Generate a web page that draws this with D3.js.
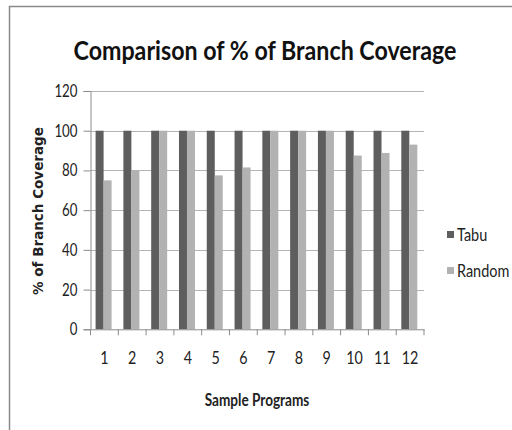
<!DOCTYPE html>
<html>
<head>
<meta charset="utf-8">
<script src="https://cdn.jsdelivr.net/npm/d3@7"></script>
<style>
  body { margin: 0; background: #fff; }
  svg { display: block; }
</style>
</head>
<body>
<svg id="chart"></svg>
<script>
const programs = ["1", "2", "3", "4", "5", "6", "7", "8", "9", "10", "11", "12"];
const tabu = [100, 100, 100, 100, 100, 100, 100, 100, 100, 100, 100, 100];
const random = [75, 80, 100, 100, 77.5, 81.5, 100, 100, 100, 87.5, 88.8, 93];
const seriesNames = ["Tabu", "Random"];
const yTicks = [0, 20, 40, 60, 80, 100, 120];

const width = 512, height = 430;
const colors = { Tabu: "#5e5e5e", Random: "#b2b2b2" };
const labelFont = "Lato, 'Open Sans', sans-serif";

const svg = d3.select("#chart").attr("width", width).attr("height", height);

// frame (only top + left edges show)
svg.append("line").attr("x1", 9).attr("x2", width).attr("y1", 6.5).attr("y2", 6.5)
  .attr("stroke", "#8a8a8a").attr("stroke-width", 1.5);
svg.append("line").attr("x1", 9.5).attr("x2", 9.5).attr("y1", 6).attr("y2", height)
  .attr("stroke", "#8a8a8a").attr("stroke-width", 1.5);

const plot = { left: 90.5, right: 424, top: 91, bottom: 329.3 };

const x = d3.scaleBand().domain(programs).range([plot.left, plot.right]);
const y = d3.scaleLinear().domain([0, 120]).range([plot.bottom, plot.top]);

// gridlines
svg.append("g").selectAll("line")
  .data(yTicks.filter(d => d > 0))
  .join("line")
  .attr("x1", plot.left).attr("x2", plot.right)
  .attr("y1", d => Math.round(y(d)) + 0.5).attr("y2", d => Math.round(y(d)) + 0.5)
  .attr("stroke", "#b4b4b4").attr("stroke-width", 1);

// bars
const barW = 8;
const groups = svg.append("g").selectAll("g")
  .data(programs.map((p, i) => ({ p, vals: [tabu[i], random[i]] })))
  .join("g")
  .attr("transform", d => `translate(${x(d.p) + x.bandwidth() / 2 - barW - 0.8},0)`);

groups.selectAll("rect")
  .data(d => d.vals.map((v, j) => ({ v, name: seriesNames[j], j })))
  .join("rect")
  .attr("x", d => d.j * barW)
  .attr("y", d => y(d.v))
  .attr("width", barW)
  .attr("height", d => y(0) - y(d.v))
  .attr("fill", d => colors[d.name]);

// narrow, tall digits like the original's font
function squeeze(sel, perChar) {
  sel.attr("textLength", function () { return this.textContent.length * perChar; })
    .attr("lengthAdjust", "spacingAndGlyphs");
}

// y axis
const yAxis = svg.append("g")
  .attr("transform", `translate(${plot.left},0)`)
  .call(d3.axisLeft(y).tickValues(yTicks).tickSize(7).tickPadding(6).tickFormat(d3.format("d")));
yAxis.select(".domain").attr("stroke", "#8c8c8c");
yAxis.selectAll(".tick line").attr("stroke", "#8c8c8c");
yAxis.selectAll("text").attr("font-family", labelFont).attr("font-size", 17).attr("fill", "#222")
  .call(squeeze, 7.7);

// x axis
const xAxis = svg.append("g")
  .attr("transform", `translate(0,${plot.bottom})`)
  .call(d3.axisBottom(x).tickSize(0).tickPadding(23));
xAxis.select(".domain").attr("stroke", "#8c8c8c");
xAxis.selectAll("text").attr("font-family", labelFont).attr("font-size", 17).attr("fill", "#222")
  .call(squeeze, 8.3);
// tick marks sit on the category boundaries
xAxis.append("g").selectAll("line")
  .data(programs.map(p => x(p)).concat([plot.right]))
  .join("line")
  .attr("x1", d => d).attr("x2", d => d)
  .attr("y1", 0).attr("y2", 6)
  .attr("stroke", "#8c8c8c");

// title (horizontally condensed with a scale transform)
svg.append("text")
  .attr("transform", "translate(265,60) scale(0.86,1)")
  .attr("text-anchor", "middle")
  .attr("font-family", labelFont)
  .attr("font-weight", "bold")
  .attr("font-size", 27)
  .attr("fill", "#111")
  .text("Comparison of % of Branch Coverage");

// axis titles
svg.append("text")
  .attr("transform", "translate(43,211) rotate(-90)")
  .attr("text-anchor", "middle")
  .attr("font-family", "'DejaVu Sans', sans-serif")
  .attr("font-weight", "bold")
  .attr("font-size", 13.5)
  .attr("fill", "#222")
  .text("% of Branch Coverage");

svg.append("text")
  .attr("transform", "translate(257,406) scale(0.8,1)")
  .attr("text-anchor", "middle")
  .attr("font-family", labelFont)
  .attr("font-weight", "bold")
  .attr("font-size", 17)
  .attr("fill", "#222")
  .text("Sample Programs");

// legend
const legend = svg.append("g").selectAll("g")
  .data(seriesNames)
  .join("g")
  .attr("transform", (d, i) => `translate(447,${231 + i * 36})`);
legend.append("rect").attr("width", 7).attr("height", 7).attr("fill", d => colors[d]);
legend.append("text")
  .attr("transform", "translate(10,4) scale(0.85,1)")
  .attr("dy", "0.35em")
  .attr("font-family", labelFont)
  .attr("font-size", 17)
  .attr("fill", "#222")
  .text(d => d);
</script>
</body>
</html>
